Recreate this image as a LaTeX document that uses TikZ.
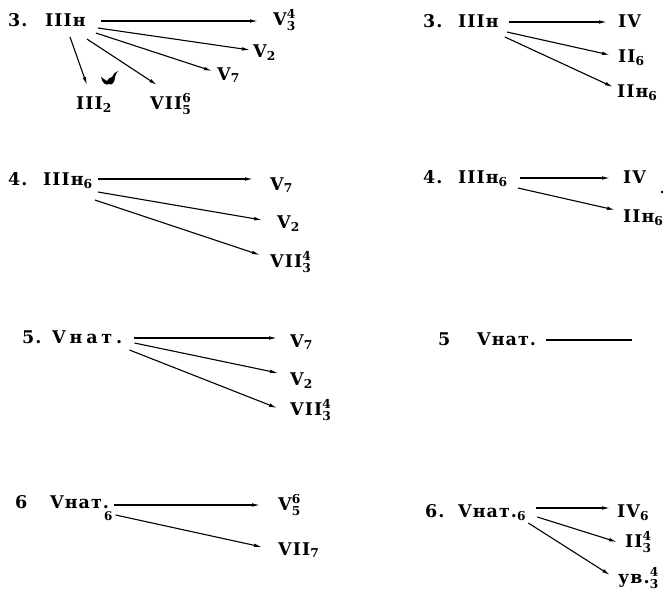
\documentclass[tikz,border=0pt]{standalone}
\usepackage{fontspec}
\usepackage{amsmath}
\setmainfont[LetterSpace=6]{DejaVu Serif}
\usetikzlibrary{arrows.meta}
\tikzset{
  lbl/.style={inner sep=0pt, anchor=base west, font=\fontsize{17.5}{19}\selectfont\bfseries},
  arr/.style={line width=1.1pt, -{Latex[length=8pt,width=3.6pt]}},
  plain/.style={line width=1.1pt}
}
\newcommand\ud[2]{\ensuremath{^{\text{#1}}_{\text{#2}}}}
\newcommand\dn[1]{\ensuremath{_{\text{#1}}}}
\begin{document}
\begin{tikzpicture}[x=1pt,y=-1pt]
\useasboundingbox (0,0) rectangle (667,592);
% ---------- row 1 left
\node[lbl] (n1L) at (8,26) {3.};
\node[lbl] (s1L) at (45,26) {IIIн};
\node[lbl] (a1L) at (273,25) {V\ud{4}{3}};
\node[lbl] (b1L) at (253,57) {V\dn{2}};
\node[lbl] (c1L) at (217,80) {V\dn{7}};
\node[lbl] (d1L) at (76,109) {III\dn{2}};
\node[lbl] (e1L) at (150,109) {VII\ud{6}{5}};
\draw[arr] ([shift={(15,-5)}]s1L.base east) -- ([shift={(-15,-4)}]a1L.base west);
\draw[arr] ([shift={(12,2)}]s1L.base east) -- ([shift={(-3,-7)}]b1L.base west);
\draw[arr] ([shift={(10,7)}]s1L.base east) -- ([shift={(-5,-9)}]c1L.base west);
\draw[arr] ([shift={(25,11)}]s1L.base west) -- ([shift={(11,-24)}]d1L.base west);
\draw[arr] ([shift={(1,13)}]s1L.base east) -- ([shift={(7,-24)}]e1L.base west);
\fill (101,77) .. controls (102,83) and (106,86) .. (109,84)
  .. controls (112,86) and (115,82) .. (115,77)
  .. controls (116,74) and (117,72) .. (118,71)
  .. controls (115,72) and (113,74) .. (112,77)
  .. controls (110,77) and (108,79) .. (107,81)
  .. controls (105,80) and (103,78) .. (101,77) -- cycle;
% ---------- row 1 right
\node[lbl] (n1R) at (423,27) {3.};
\node[lbl] (s1R) at (458,27) {IIIн};
\node[lbl] (a1R) at (618,27) {IV};
\node[lbl] (b1R) at (618,62) {II\dn{6}};
\node[lbl] (c1R) at (617,97) {IIн\dn{6}};
\draw[arr] ([shift={(10,-5)}]s1R.base east) -- ([shift={(-11,-5)}]a1R.base west);
\draw[arr] ([shift={(8,5)}]s1R.base east) -- ([shift={(-8,-7)}]b1R.base west);
\draw[arr] ([shift={(6,10)}]s1R.base east) -- ([shift={(-4,-10)}]c1R.base west);
% ---------- row 2 left
\node[lbl] (n2L) at (8,185) {4.};
\node[lbl] (s2L) at (43,185) {IIIн\dn{6}};
\node[lbl] (a2L) at (270,190) {V\dn{7}};
\node[lbl] (b2L) at (277,228) {V\dn{2}};
\node[lbl] (c2L) at (270,267) {VII\ud{4}{3}};
\draw[arr] ([shift={(5,-6)}]s2L.base east) -- ([shift={(-17,-11)}]a2L.base west);
\draw[arr] ([shift={(5,7)}]s2L.base east) -- ([shift={(-15,-8)}]b2L.base west);
\draw[arr] ([shift={(2,15)}]s2L.base east) -- ([shift={(-10,-12)}]c2L.base west);
% ---------- row 2 right
\node[lbl] (n2R) at (423,183) {4.};
\node[lbl] (s2R) at (458,183) {IIIн\dn{6}};
\node[lbl] (a2R) at (623,183) {IV};
\node[lbl] (b2R) at (623,222) {IIн\dn{6}};
\fill (662,192) circle (1.3pt);
\draw[arr] ([shift={(12,-5)}]s2R.base east) -- ([shift={(-13,-5)}]a2R.base west);
\draw[arr] ([shift={(10,5)}]s2R.base east) -- ([shift={(-8,-12)}]b2R.base west);
% ---------- row 3 left
\node[lbl] (n3L) at (22,343) {5.};
\node[lbl] (s3L) at (52,343) {\addfontfeature{LetterSpace=22}Vнат.};
\node[lbl] (a3L) at (290,347) {V\dn{7}};
\node[lbl] (b3L) at (290,385) {V\dn{2}};
\node[lbl] (c3L) at (290,415) {VII\ud{4}{3}};
\draw[arr] ([shift={(12,-5)}]s3L.base east) -- ([shift={(-13,-9)}]a3L.base west);
\draw[arr] ([shift={(12,0)}]s3L.base east) -- ([shift={(-12,-12)}]b3L.base west);
\draw[arr] ([shift={(7,7)}]s3L.base east) -- ([shift={(-13,-7)}]c3L.base west);
% ---------- row 3 right
\node[lbl] (n3R) at (438,345) {5};
\node[lbl] (s3R) at (477,345) {Vнат.};
\coordinate (e3R) at (632,340);
\draw[plain] ([shift={(10,-5)}]s3R.base east) -- (e3R);
% ---------- row 4 left
\node[lbl] (n4L) at (15,508) {6};
\node[lbl] (s4L) at (50,508) {Vнат.\hspace{-5pt}\raisebox{-12pt}{\fontsize{12}{12}\selectfont 6}};
\node[lbl] (a4L) at (278,510) {V\ud{6}{5}};
\node[lbl] (b4L) at (278,555) {VII\dn{7}};
\draw[arr] ([shift={(1,-3)}]s4L.base east) -- ([shift={(-18,-5)}]a4L.base west);
\draw[arr] ([shift={(3,7)}]s4L.base east) -- ([shift={(-16,-8)}]b4L.base west);
% ---------- row 4 right
\node[lbl] (n4R) at (425,517) {6.};
\node[lbl] (s4R) at (458,517) {Vнат.\dn{6}};
\node[lbl] (a4R) at (617,517) {IV\dn{6}};
\node[lbl] (b4R) at (625,547) {II\ud{4}{3}};
\node[lbl] (c4R) at (618,583) {ув.\ud{4}{3}};
\draw[arr] ([shift={(10,-9)}]s4R.base east) -- ([shift={(-7,-9)}]a4R.base west);
\draw[arr] ([shift={(11,0)}]s4R.base east) -- ([shift={(-8,-5)}]b4R.base west);
\draw[arr] ([shift={(2,6)}]s4R.base east) -- ([shift={(-8,-8)}]c4R.base west);
\end{tikzpicture}
\end{document}
